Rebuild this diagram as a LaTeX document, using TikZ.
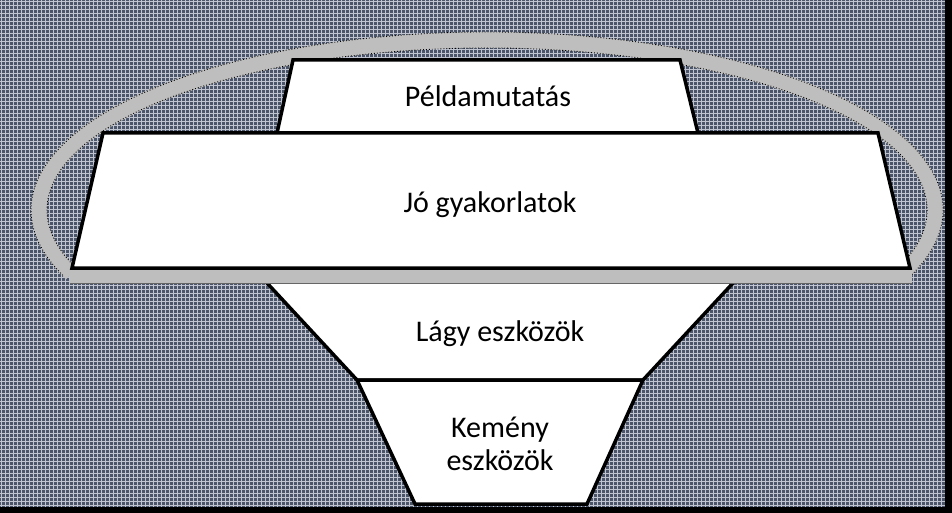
\documentclass[tikz,border=0pt]{standalone}
\usepackage{fontspec}
\setmainfont{Carlito}
\usetikzlibrary{positioning}
\definecolor{slate}{HTML}{4B5569}
\definecolor{gridline}{HTML}{BFC4D0}
\definecolor{ringgray}{HTML}{BEBEBE}

\begin{document}
\begin{tikzpicture}[
    x=1pt, y=1pt,
    every node/.style={
        font=\fontsize{30}{33}\selectfont,
        align=center,
        inner sep=0pt,
        anchor=base
    },
    level/.style={fill=white, draw=black, line width=3.5pt, line join=miter},
    ring/.style={draw=ringgray, line width=16pt},
    ringedge/.style={draw=black, line width=0.9pt, dotted}
]
\useasboundingbox (0,0) rectangle (952,-513);
% background
\fill[slate] (0,0) rectangle (952,-513);
\begin{scope}
\clip (0,0) rectangle (952,-513);
\draw[gridline, line width=1.2pt, shift={(1.5,-1.5)}] (-4,4) grid[step=4] (956,-517);
\end{scope}
\fill[black] (945,0) rectangle (952,-513);
\fill[black] (0,-507) rectangle (952,-513);

% lower levels
\fill[white] (267,-283) -- (733,-283) -- (643,-380) -- (357,-380) -- cycle;
\draw[level, fill=none] (267,-283) -- (357,-380) -- (643,-380) -- (733,-283);
\draw[level] (357,-380) -- (643,-380) -- (587,-504) -- (415,-504) -- cycle;

% ring
\begin{scope}[shift={(487,-210)}]
\draw[ring] (-22:448 and 170) arc[start angle=-22, end angle=202, x radius=448, y radius=170];
\draw[ringedge] (-22:456 and 178) arc[start angle=-22, end angle=202, x radius=456, y radius=178];
\draw[ringedge] (-22:440 and 162) arc[start angle=-22, end angle=202, x radius=440, y radius=162];
\end{scope}
\fill[ringgray] (70,-269) rectangle (912,-283);
\draw[black!60, line width=0.8pt] (70,-283) -- (912,-283);

% upper levels
\draw[level] (293,-60) -- (680,-60) -- (698,-133) -- (277,-133) -- cycle;
\draw[level] (103,-133) -- (878,-133) -- (910,-268) -- (72,-268) -- cycle;

\node (example) at (488,-107) {Példamutatás};
\node (practice) at (490,-212) {Jó gyakorlatok};
\node (soft) at (500,-341) {Lágy eszközök};
\node (hard) at (500,-470) {Kemény\\eszközök};
\end{tikzpicture}
\end{document}
